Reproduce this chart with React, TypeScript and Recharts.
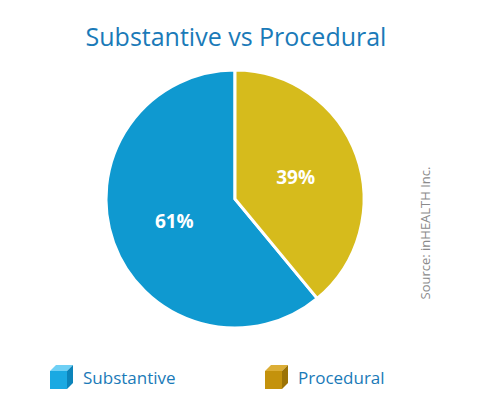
import { PieChart, Pie, Cell, Legend } from 'recharts';

const categories = ['Substantive', 'Procedural'];
const shares = [61, 39];
const sliceColors = ['#0f99d0', '#d6bb1c'];
const cubeColors = [
  { top: '#6fd0f5', front: '#1aa9e2', side: '#0c84ba' },
  { top: '#dcae36', front: '#c4920c', side: '#9c7306' },
];

const data = categories.map((name, i) => ({ name, value: shares[i] }));

const RADIAN = Math.PI / 180;
const FONT = '"Open Sans", "DejaVu Sans", sans-serif';

function renderLabel({ cx, cy, midAngle, outerRadius, value }: any) {
  const r = outerRadius * 0.5;
  const x = cx + r * Math.cos(-midAngle * RADIAN);
  const y = cy + r * Math.sin(-midAngle * RADIAN);
  return (
    <text x={x} y={y} fill="#fff" textAnchor="middle" dominantBaseline="central"
      style={{ fontFamily: FONT, fontSize: 19, fontWeight: 700 }}>
      {value}%
    </text>
  );
}

function Cube({ c }: { c: { top: string; front: string; side: string } }) {
  return (
    <svg width={26} height={28} style={{ display: 'block' }}>
      <polygon points="2,8 8,2 25,2 19,8" fill={c.top} />
      <polygon points="19,8 25,2 25,20 19,26" fill={c.side} />
      <rect x={2} y={8} width={17} height={18} fill={c.front} />
    </svg>
  );
}

function renderLegend() {
  return (
    <div style={{ position: 'relative', height: 30 }}>
      {categories.map((name, i) => (
        <div key={name} style={{ position: 'absolute', left: i === 0 ? 48 : 263, top: 0, display: 'flex', alignItems: 'center' }}>
          <Cube c={cubeColors[i]} />
          <span style={{ marginLeft: 9, fontFamily: FONT, fontSize: 17, color: '#1a7ab8' }}>{name}</span>
        </div>
      ))}
    </div>
  );
}

export default function App() {
  return (
    <div style={{ position: 'absolute', left: 0, top: 0, width: 485, height: 405, background: '#fff' }}>
      <div style={{ position: 'absolute', left: 0, top: 19, width: 472, textAlign: 'center', fontFamily: FONT, fontSize: 25, color: '#1a7ab8' }}>
        Substantive vs Procedural
      </div>
      <div style={{
        position: 'absolute', left: 425, top: 233, transform: 'translate(-50%, -50%) rotate(-90deg)',
        whiteSpace: 'nowrap', fontFamily: FONT, fontSize: 13, color: '#8a8a8a',
      }}>
        Source: inHEALTH Inc.
      </div>
      <PieChart width={485} height={405} margin={{ top: 0, right: 0, bottom: 0, left: 0 }}>
        <Pie
          data={data}
          dataKey="value"
          nameKey="name"
          cx={235}
          cy={199}
          outerRadius={129}
          startAngle={-50.4}
          endAngle={-410.4}
          stroke="#fff"
          strokeWidth={3}
          label={renderLabel}
          labelLine={false}
          isAnimationActive={false}
        >
          {data.map((d, i) => (
            <Cell key={d.name} fill={sliceColors[i]} />
          ))}
        </Pie>
        <Legend content={renderLegend} wrapperStyle={{ left: 0, top: 363, width: 485 }} />
      </PieChart>
    </div>
  );
}
